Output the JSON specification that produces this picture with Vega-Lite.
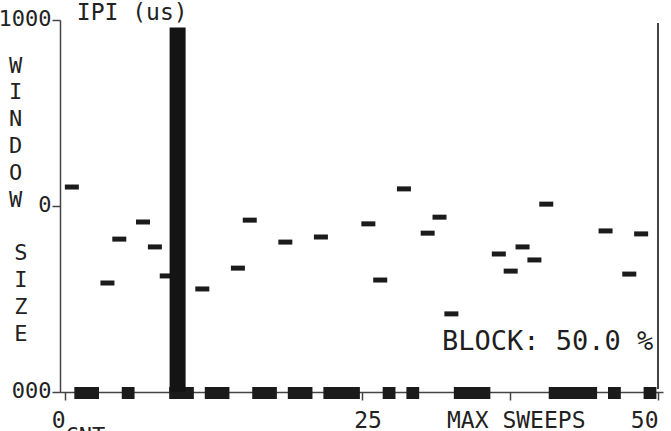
{
  "$schema": "https://vega.github.io/schema/vega-lite/v6.json",
  "width": 603,
  "height": 372,
  "autosize": {"type": "none"},
  "padding": {"left": 60, "top": 20, "right": 8, "bottom": 39},
  "background": "#ffffff",
  "config": {"view": {"stroke": null}, "font": "DejaVu Sans Mono"},
  "datasets": {
    "sweeps": [
      {"sweep": 1, "status": "ipi", "ipi": 551},
      {"sweep": 2, "status": "block", "ipi": null},
      {"sweep": 3, "status": "block", "ipi": null},
      {"sweep": 4, "status": "ipi", "ipi": 293},
      {"sweep": 5, "status": "ipi", "ipi": 411},
      {"sweep": 6, "status": "block", "ipi": null},
      {"sweep": 7, "status": "ipi", "ipi": 457},
      {"sweep": 8, "status": "ipi", "ipi": 390},
      {"sweep": 9, "status": "ipi", "ipi": 312},
      {"sweep": 10, "status": "block", "ipi": null},
      {"sweep": 11, "status": "block", "ipi": null},
      {"sweep": 12, "status": "ipi", "ipi": 277},
      {"sweep": 13, "status": "block", "ipi": null},
      {"sweep": 14, "status": "block", "ipi": null},
      {"sweep": 15, "status": "ipi", "ipi": 333},
      {"sweep": 16, "status": "ipi", "ipi": 462},
      {"sweep": 17, "status": "block", "ipi": null},
      {"sweep": 18, "status": "block", "ipi": null},
      {"sweep": 19, "status": "ipi", "ipi": 403},
      {"sweep": 20, "status": "block", "ipi": null},
      {"sweep": 21, "status": "block", "ipi": null},
      {"sweep": 22, "status": "ipi", "ipi": 417},
      {"sweep": 23, "status": "block", "ipi": null},
      {"sweep": 24, "status": "block", "ipi": null},
      {"sweep": 25, "status": "block", "ipi": null},
      {"sweep": 26, "status": "ipi", "ipi": 452},
      {"sweep": 27, "status": "ipi", "ipi": 301},
      {"sweep": 28, "status": "block", "ipi": null},
      {"sweep": 29, "status": "ipi", "ipi": 546},
      {"sweep": 30, "status": "block", "ipi": null},
      {"sweep": 31, "status": "ipi", "ipi": 427},
      {"sweep": 32, "status": "ipi", "ipi": 470},
      {"sweep": 33, "status": "ipi", "ipi": 210},
      {"sweep": 34, "status": "block", "ipi": null},
      {"sweep": 35, "status": "block", "ipi": null},
      {"sweep": 36, "status": "block", "ipi": null},
      {"sweep": 37, "status": "ipi", "ipi": 371},
      {"sweep": 38, "status": "ipi", "ipi": 325},
      {"sweep": 39, "status": "ipi", "ipi": 390},
      {"sweep": 40, "status": "ipi", "ipi": 355},
      {"sweep": 41, "status": "ipi", "ipi": 505},
      {"sweep": 42, "status": "block", "ipi": null},
      {"sweep": 43, "status": "block", "ipi": null},
      {"sweep": 44, "status": "block", "ipi": null},
      {"sweep": 45, "status": "block", "ipi": null},
      {"sweep": 46, "status": "ipi", "ipi": 433},
      {"sweep": 47, "status": "block", "ipi": null},
      {"sweep": 48, "status": "ipi", "ipi": 317},
      {"sweep": 49, "status": "ipi", "ipi": 425},
      {"sweep": 50, "status": "block", "ipi": null}
    ],
    "window": [{"sweep": 10, "ipi": 980}],
    "note": [{"text": "BLOCK: 50.0 %"}],
    "heading": [{"text": "IPI (us)"}],
    "sideword": [{"letters": ["S", "I", "Z", "E"]}]
  },
  "layer": [
    {
      "data": {"name": "sweeps"},
      "transform": [{"filter": "datum.status === 'ipi'"}],
      "mark": {"type": "tick", "orient": "horizontal", "size": 14, "thickness": 5, "color": "#1b1b1b", "opacity": 1, "xOffset": -5},
      "encoding": {
        "x": {
          "field": "sweep",
          "type": "quantitative",
          "scale": {"domain": [0, 50], "nice": false, "zero": false},
          "axis": {
            "values": [0, 25, 37.5, 50],
            "labelExpr": "datum.value == 37.5 ? 'MAX SWEEPS' : format(datum.value, 'd')",
            "labelFont": "DejaVu Sans Mono",
            "labelFontSize": 23,
            "labelColor": "#222222",
            "labelPadding": 9,
            "labelOverlap": false,
            "labelFlush": false,
            "labelBound": false,
            "labelOffset": {"condition": {"test": "datum.value == 0 || datum.value == 50", "value": 0}, "value": 6},
            "labelAlign": {"condition": {"test": "datum.value == 0 || datum.value == 50", "value": "right"}, "value": "center"},
            "tickSize": 8,
            "tickWidth": 1.5,
            "tickColor": "#444444",
            "domainColor": "#444444",
            "domainWidth": 1.5,
            "grid": false,
            "title": "CNT",
            "titleFont": "DejaVu Sans Mono",
            "titleFontSize": 22,
            "titleFontWeight": "normal",
            "titleColor": "#222222",
            "titleAlign": "left",
            "titleBaseline": "top",
            "titleX": 5,
            "titleY": 33
          }
        },
        "y": {
          "field": "ipi",
          "type": "quantitative",
          "scale": {"domain": [0, 1000], "nice": false},
          "axis": {
            "values": [0, 500, 1000],
            "labelExpr": "datum.value == 1000 ? '1000' : datum.value == 500 ? '0' : '000'",
            "labelFont": "DejaVu Sans Mono",
            "labelFontSize": 22,
            "labelColor": "#222222",
            "labelPadding": 1,
            "labelOffset": -2,
            "labelBaseline": "middle",
            "labelOverlap": false,
            "labelFlush": false,
            "labelBound": false,
            "tickSize": 8,
            "tickWidth": 1.5,
            "tickColor": "#444444",
            "domainColor": "#444444",
            "domainWidth": 1.5,
            "grid": false,
            "title": ["W", "I", "N", "D", "O", "W"],
            "titleFont": "DejaVu Sans Mono",
            "titleFontSize": 22,
            "titleFontWeight": "normal",
            "titleColor": "#222222",
            "titleAngle": 0,
            "titleAlign": "center",
            "titleBaseline": "alphabetic",
            "titleLineHeight": 26.9,
            "titleX": -45,
            "titleY": 52
          }
        }
      }
    },
    {
      "data": {"name": "sweeps"},
      "transform": [{"filter": "datum.status === 'block'"}],
      "mark": {"type": "tick", "orient": "horizontal", "size": 12.8, "thickness": 12, "color": "#1b1b1b", "opacity": 1, "xOffset": -8, "yOffset": 1},
      "encoding": {
        "x": {"field": "sweep", "type": "quantitative"},
        "y": {"datum": 0, "type": "quantitative"}
      }
    },
    {
      "data": {"name": "window"},
      "mark": {"type": "bar", "width": 16, "color": "#141414", "xOffset": -6},
      "encoding": {
        "x": {"field": "sweep", "type": "quantitative"},
        "y": {"field": "ipi", "type": "quantitative"},
        "y2": {"datum": 0}
      }
    },
    {
      "data": {"name": "note"},
      "mark": {"type": "rule", "color": "#444444", "strokeWidth": 2},
      "encoding": {
        "x": {"datum": 50, "type": "quantitative"},
        "y": {"datum": 8, "type": "quantitative"},
        "y2": {"datum": 992}
      }
    },
    {
      "data": {"name": "note"},
      "mark": {"type": "text", "align": "right", "baseline": "alphabetic", "font": "DejaVu Sans Mono", "fontSize": 27, "color": "#1e1e1e"},
      "encoding": {
        "x": {"datum": 49.6, "type": "quantitative"},
        "y": {"datum": 113, "type": "quantitative"},
        "text": {"field": "text"}
      }
    },
    {
      "data": {"name": "heading"},
      "mark": {"type": "text", "align": "left", "baseline": "alphabetic", "font": "DejaVu Sans Mono", "fontSize": 23, "color": "#222222"},
      "encoding": {
        "x": {"datum": 1, "type": "quantitative"},
        "y": {"datum": 1001, "type": "quantitative"},
        "text": {"field": "text"}
      }
    },
    {
      "data": {"name": "sideword"},
      "mark": {"type": "text", "align": "center", "baseline": "alphabetic", "font": "DejaVu Sans Mono", "fontSize": 22, "lineHeight": 26.9, "color": "#222222"},
      "encoding": {
        "x": {"datum": -3.73, "type": "quantitative"},
        "y": {"datum": 354, "type": "quantitative"},
        "text": {"field": "letters"}
      }
    }
  ]
}
